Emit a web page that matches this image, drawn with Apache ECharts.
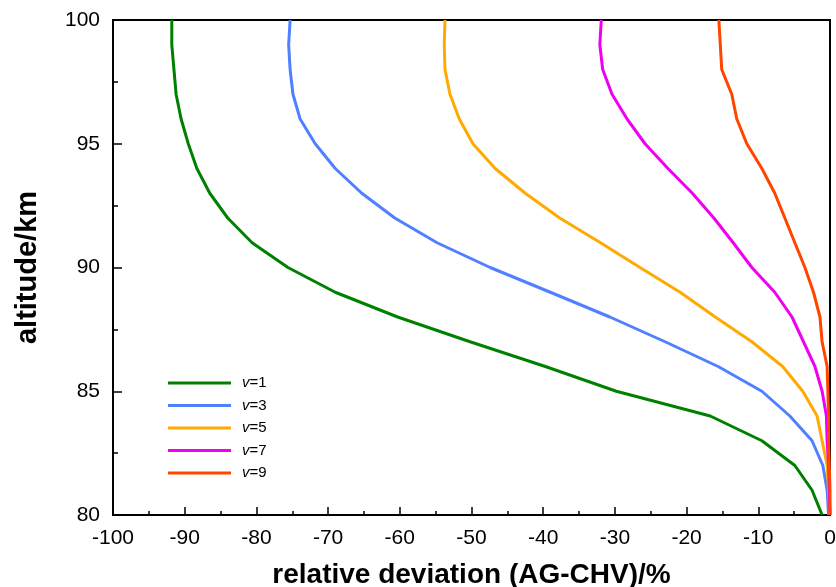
<!DOCTYPE html>
<html>
<head>
<meta charset="utf-8">
<script src="https://cdn.jsdelivr.net/npm/echarts@6/dist/echarts.min.js"></script>
<style>html,body{margin:0;padding:0;background:#fff}#c{width:836px;height:587px}</style>
</head>
<body>
<div id="c"></div>
<script>
var altitudes = [80,81,82,83,84,85,86,87,88,89,90,91,92,93,94,95,96,97,98,99,100];
var seriesNames = ['v=1','v=3','v=5','v=7','v=9'];
var v1 = [-1.1,-2.5,-4.9,-9.5,-16.7,-29.8,-39.7,-50.2,-60.3,-69,-75.6,-80.6,-84,-86.5,-88.3,-89.5,-90.5,-91.2,-91.5,-91.8,-91.8];
var v3 = [-0.2,-0.4,-1,-2.5,-5.6,-9.5,-15.6,-23,-30.7,-39,-47.4,-54.8,-60.7,-65.3,-69,-71.8,-73.9,-74.9,-75.3,-75.5,-75.3];
var v5 = [0,-0.2,-0.4,-1.1,-1.8,-3.8,-6.6,-10.9,-16,-20.9,-26.5,-32,-37.7,-42.5,-46.7,-49.8,-51.7,-53,-53.7,-53.8,-53.7];
var v7 = [0,-0.1,-0.2,-0.4,-0.5,-1.1,-2.1,-3.7,-5.3,-7.7,-10.9,-13.5,-16.2,-19.2,-22.6,-25.8,-28.3,-30.4,-31.7,-32.1,-31.9];
var v9 = [0,0,-0.1,-0.2,-0.2,-0.3,-0.4,-1.1,-1.4,-2.3,-3.5,-4.9,-6.3,-7.7,-9.5,-11.6,-13,-13.7,-15.1,-15.3,-15.5];
var allValues = [v1,v3,v5,v7,v9];
var colors = ['#008000','#5080ff','#ffaa00','#f000f0','#ff4500'];

var chart = echarts.init(document.getElementById('c'), null, {renderer:'canvas'});
var series = allValues.map(function(vals, i){
  return {
    name: seriesNames[i],
    type: 'line',
    symbol: 'none',
    data: vals.map(function(v, j){ return [v, altitudes[j]]; }),
    lineStyle: {color: colors[i], width: 3},
    itemStyle: {color: colors[i]},
    animation: false
  };
});
var font = 'Liberation Sans, Arial, sans-serif';
chart.setOption({
  animation: false,
  grid: {left:113, right:6, top:20, bottom:72, containLabel:false, outerBoundsMode:'none',
         show:true, borderColor:'#000', borderWidth:2, backgroundColor:'transparent'},
  legend: {
    orient:'vertical', left:163, top:370, icon:'rect', itemWidth:63, itemHeight:3, itemGap:6.5,
    data: seriesNames,
    formatter: function(n){ return '{i|v}{n|' + n.slice(1) + '}'; },
    textStyle: {
      fontFamily: font, fontSize:15, lineHeight:16, color:'#000', padding:[0,0,0,6],
      rich: {
        i: {fontStyle:'italic', fontFamily: font, fontSize:15, color:'#000'},
        n: {fontFamily: font, fontSize:15, color:'#000'}
      }
    }
  },
  xAxis: {
    type:'value', min:-100, max:0, interval:10,
    name:'relative deviation (AG-CHV)/%', nameLocation:'middle', nameGap:46,
    nameTextStyle:{fontFamily:font, fontSize:28, fontWeight:'bold', color:'#000'},
    axisLine:{show:true, onZero:false, lineStyle:{color:'#000', width:2}},
    axisTick:{show:true, inside:true, length:8, lineStyle:{color:'#000', width:1.5}},
    minorTick:{show:true, splitNumber:2, length:4, lineStyle:{color:'#000', width:1.5}},
    splitLine:{show:false},
    axisLabel:{fontFamily:font, fontSize:21, color:'#000', margin:13}
  },
  yAxis: {
    type:'value', min:80, max:100, interval:5,
    name:'altitude/km', nameLocation:'middle', nameGap:71,
    nameTextStyle:{fontFamily:font, fontSize:29, fontWeight:'bold', color:'#000'},
    axisLine:{show:true, onZero:false, lineStyle:{color:'#000', width:2}},
    axisTick:{show:true, inside:true, length:9, lineStyle:{color:'#000', width:1.5}},
    minorTick:{show:true, splitNumber:2, length:5, lineStyle:{color:'#000', width:1.5}},
    splitLine:{show:false},
    axisLabel:{fontFamily:font, fontSize:21, color:'#000', margin:13}
  },
  series: series
});
</script>
</body>
</html>
